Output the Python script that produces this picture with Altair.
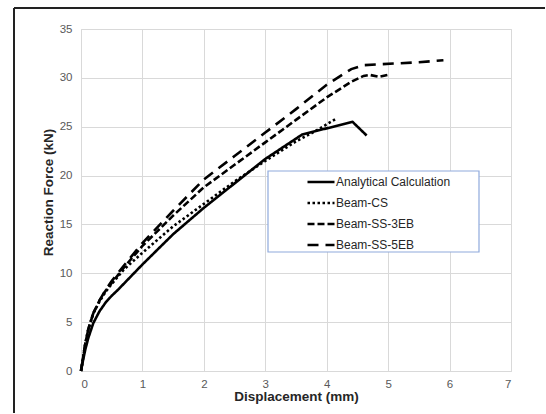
import altair as alt
import pandas as pd

series_names = ["Analytical Calculation", "Beam-CS", "Beam-SS-3EB", "Beam-SS-5EB"]

analytical_x = [0, 0.03, 0.07, 0.12, 0.2, 0.3, 0.4, 0.5, 0.6, 0.8, 1.0, 1.5, 2.0, 2.5, 3.0, 3.6, 4.42, 4.65]
analytical_y = [0, 1.0, 2.2, 3.4, 4.9, 6.1, 7.0, 7.7, 8.3, 9.6, 10.9, 14.0, 16.7, 19.2, 21.7, 24.2, 25.5, 24.1]

cs_x = [0, 0.03, 0.07, 0.12, 0.2, 0.3, 0.4, 0.5, 0.7, 1.0, 1.5, 2.0, 2.5, 3.0, 3.5, 3.8, 4.15]
cs_y = [0, 1.2, 2.8, 4.3, 5.9, 7.1, 8.1, 8.9, 10.4, 12.1, 14.8, 17.1, 19.4, 21.5, 23.5, 24.5, 25.8]

ss3_x = [0, 0.03, 0.07, 0.12, 0.2, 0.3, 0.4, 0.5, 0.7, 1.0, 1.5, 2.0, 2.5, 3.0, 3.5, 4.0, 4.4, 4.6, 4.7, 4.85, 5.0]
ss3_y = [0, 1.2, 2.8, 4.3, 5.9, 7.2, 8.2, 9.0, 10.6, 12.8, 15.9, 18.8, 21.1, 23.4, 25.7, 28.0, 29.6, 30.2, 30.3, 30.1, 30.3]

ss5_x = [0, 0.03, 0.07, 0.12, 0.2, 0.3, 0.4, 0.5, 0.7, 1.0, 1.5, 2.0, 2.5, 3.0, 3.5, 4.0, 4.4, 4.6, 4.9, 5.2, 5.5, 5.9]
ss5_y = [0, 1.2, 2.8, 4.3, 5.9, 7.2, 8.3, 9.2, 10.8, 13.1, 16.4, 19.6, 22.0, 24.4, 26.8, 29.3, 30.9, 31.3, 31.4, 31.5, 31.6, 31.8]

x_ticks = [0, 1, 2, 3, 4, 5, 6, 7]
y_ticks = [0, 5, 10, 15, 20, 25, 30, 35]

rows = []
for name, xs, ys in zip(series_names,
                        [analytical_x, cs_x, ss3_x, ss5_x],
                        [analytical_y, cs_y, ss3_y, ss5_y]):
    for i, (a, b) in enumerate(zip(xs, ys)):
        rows.append({"series": name, "x": a, "y": b, "i": i})
df = pd.DataFrame(rows)

FONT = "Liberation Sans"

lines = alt.Chart(df).mark_line(color="black", strokeWidth=2.6).encode(
    x=alt.X("x:Q", scale=alt.Scale(domain=[0, 7], nice=False),
            axis=alt.Axis(values=x_ticks, title="Displacement (mm)", format="d")),
    y=alt.Y("y:Q", scale=alt.Scale(domain=[0, 35], nice=False),
            axis=alt.Axis(values=y_ticks, title="Reaction Force (kN)", format="d", titleY=163)),
    strokeDash=alt.StrokeDash(
        "series:N",
        scale=alt.Scale(domain=series_names,
                        range=[[1, 0], [2.5, 2.5], [7, 3], [11, 7]]),
        legend=alt.Legend(
            title=None, orient="none", legendX=225, legendY=138,
            symbolType="stroke", symbolSize=729, symbolStrokeWidth=2.6,
            symbolStrokeColor="black", labelFont=FONT, labelFontSize=12,
            labelColor="#262626", labelOffset=0, rowPadding=-7, padding=0,
            labelLimit=300,
        ),
    ),
    order="i:Q",
)

frame_df = pd.DataFrame({"k": [0]})
legend_box = alt.Chart(frame_df).mark_rect(
    fill="white", stroke="#8faadc", strokeWidth=1.2
).encode(x=alt.value(187), x2=alt.value(398), y=alt.value(142), y2=alt.value(223))

border_left = alt.Chart(frame_df).mark_rule(color="#222222", strokeWidth=2).encode(
    x=alt.value(-67), y=alt.value(-21), y2=alt.value(384))
border_top = alt.Chart(frame_df).mark_rule(color="#222222", strokeWidth=2).encode(
    x=alt.value(-67), x2=alt.value(464), y=alt.value(-21))

chart = alt.layer(lines, legend_box, border_left, border_top).properties(
    width=430, height=342,
    padding={"left": 81, "top": 29, "right": 35, "bottom": 43},
    autosize=alt.AutoSizeParams(type="none"),
    background="white",
).configure_view(
    stroke="#d9d9d9", strokeWidth=1
).configure_axis(
    grid=True, gridColor="#d9d9d9", gridWidth=1, domain=False, ticks=False,
    labelFont=FONT, labelFontSize=11.5, labelColor="#595959",
    titleFont=FONT, titleFontSize=13.5, titleFontWeight="bold", titleColor="#262626",
).configure_axisX(
    labelPadding=7, titlePadding=0,
).configure_axisY(
    labelPadding=9, titlePadding=4,
)

chart.save("out.html", embed_options={"renderer": "svg", "actions": False})
